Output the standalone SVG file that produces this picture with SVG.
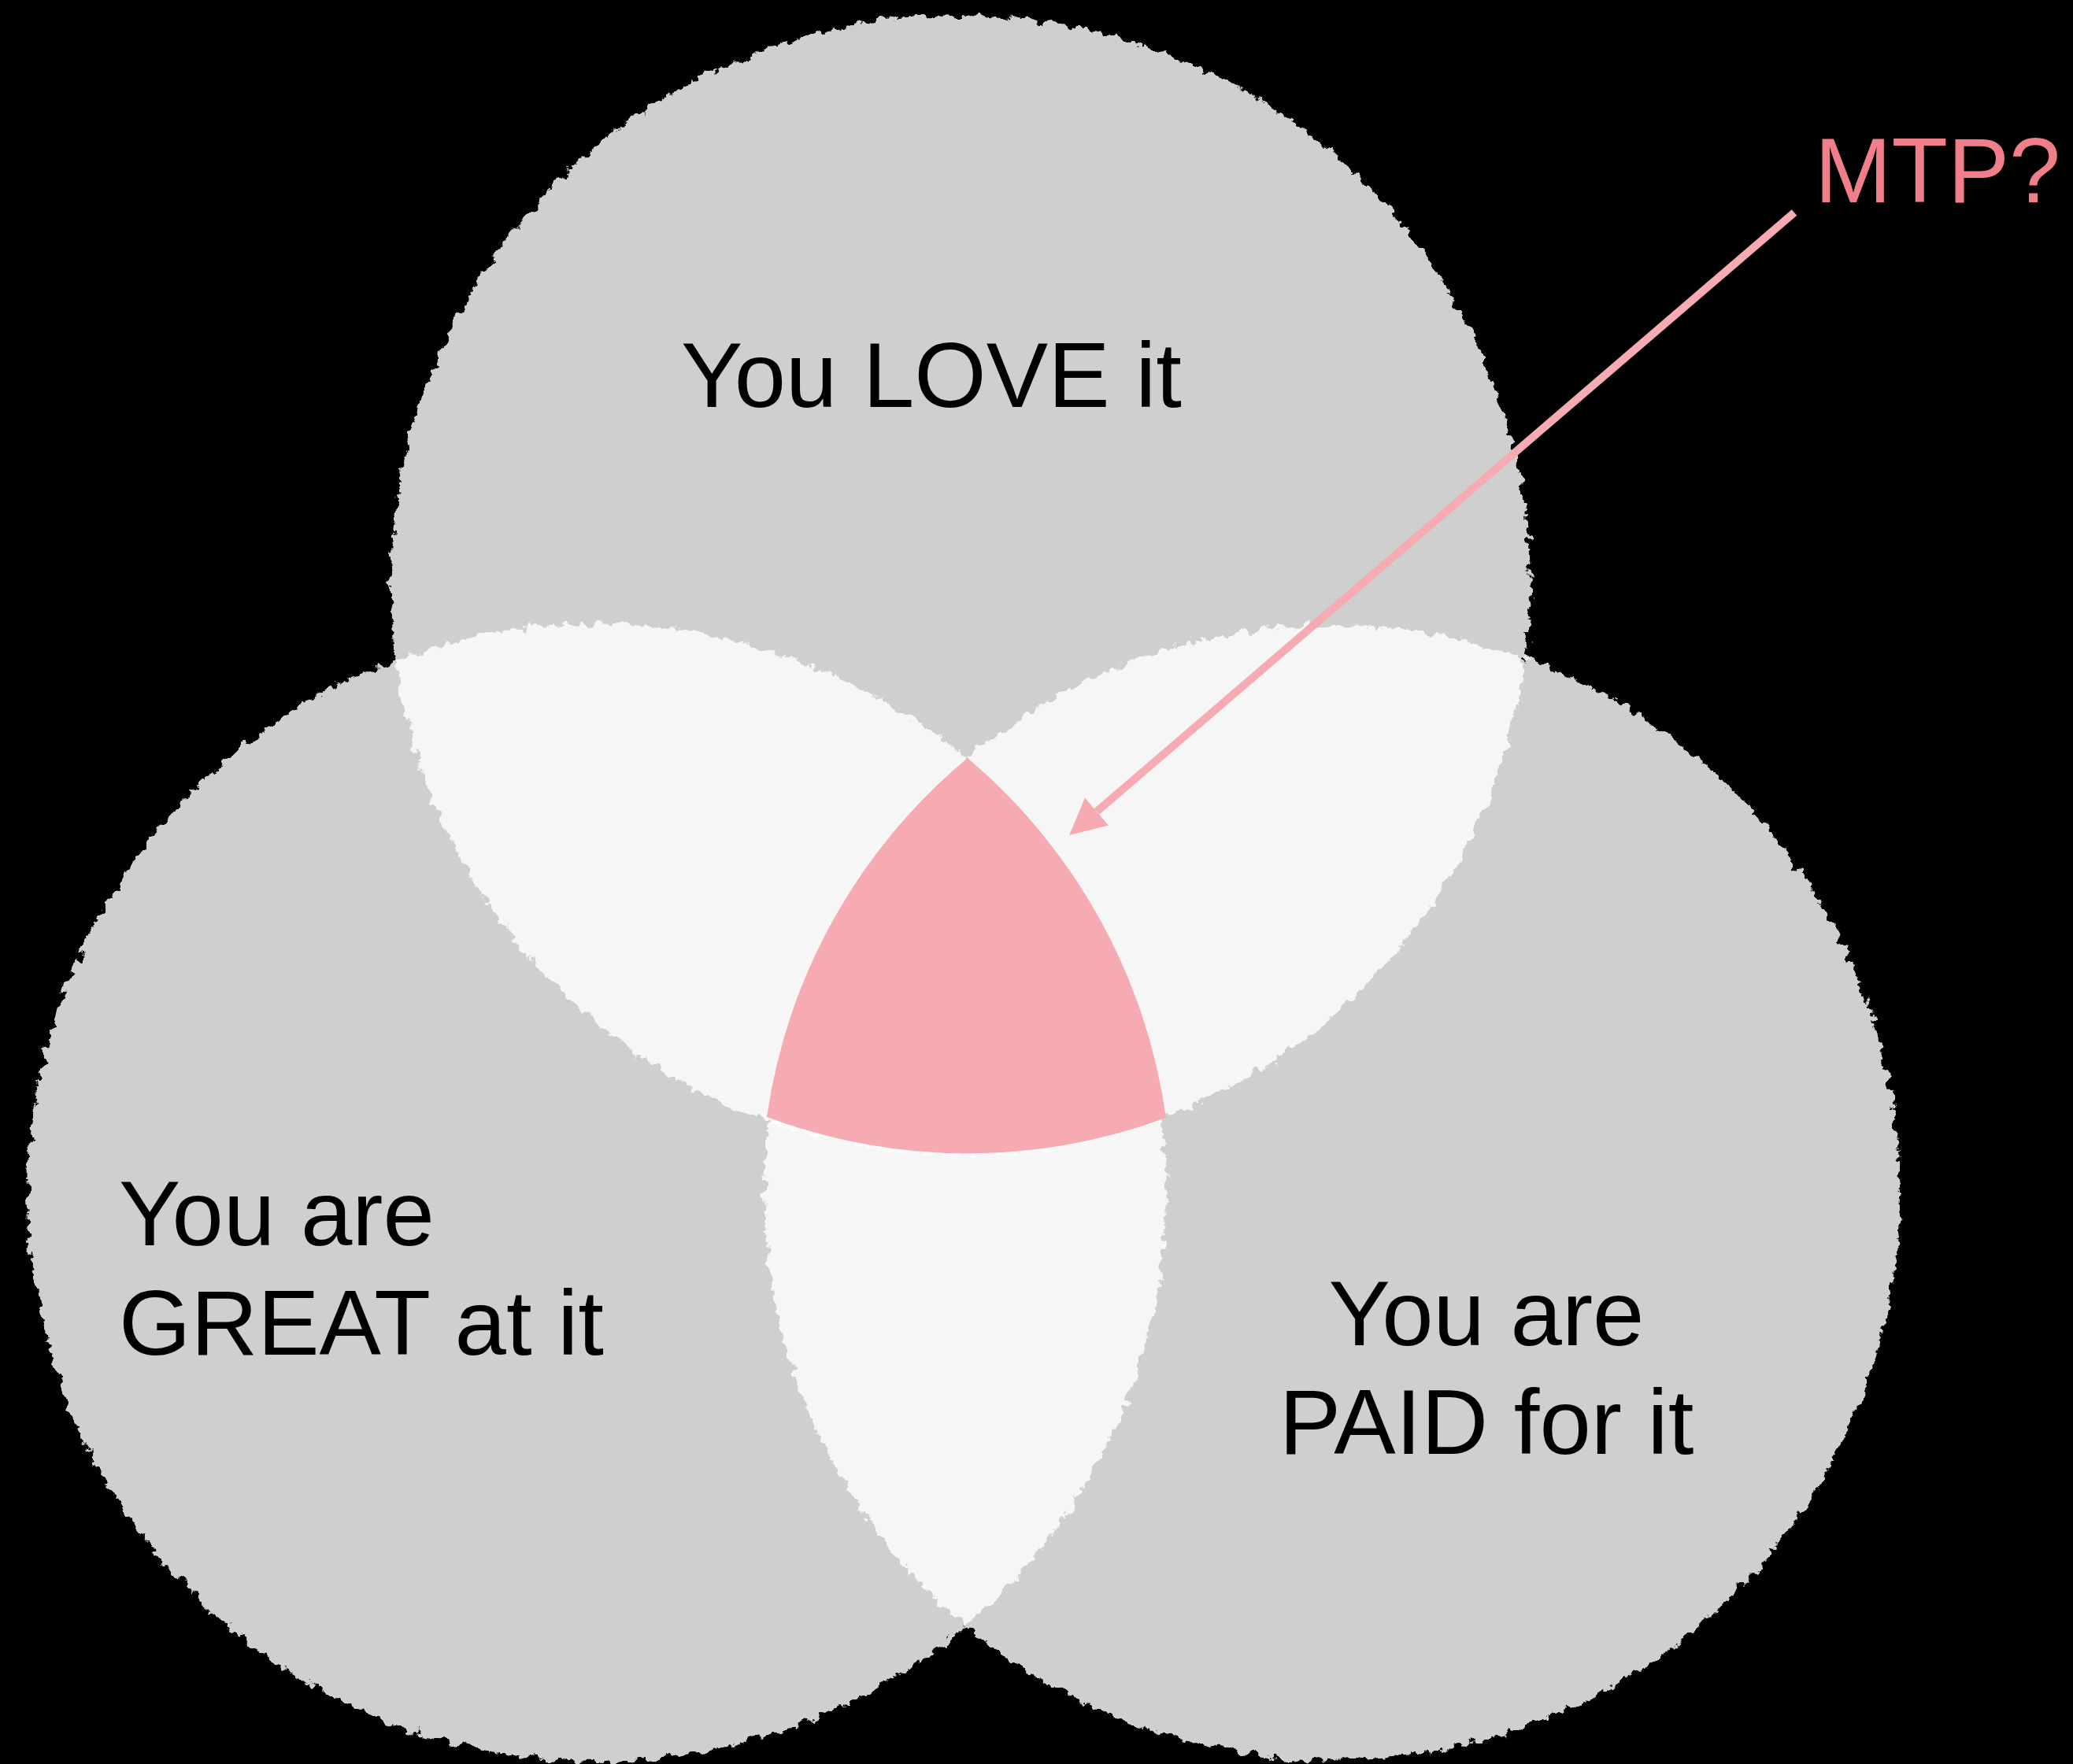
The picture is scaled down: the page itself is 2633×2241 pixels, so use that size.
<svg xmlns="http://www.w3.org/2000/svg" width="2633" height="2241" viewBox="0 0 2633 2241">
  <style>
    .set { fill: #ffffff; fill-opacity: 0.812; filter: url(#chalk); }
    .label { font-family: "Liberation Sans", Arial, Helvetica, sans-serif; font-size: 117.5px; fill: #000000; }
    .mtp { font-family: "Liberation Sans", Arial, Helvetica, sans-serif; font-size: 117px; fill: #f07f8a; }
    .core { fill: #f6abb3; }
    .arrow { stroke: #f6abb3; stroke-width: 10; fill: none; }
  </style>
  <defs>
    <filter id="chalk" x="-5%" y="-5%" width="110%" height="110%" filterUnits="objectBoundingBox" primitiveUnits="userSpaceOnUse">
      <feTurbulence type="fractalNoise" baseFrequency="0.07" numOctaves="4" seed="7" result="noise"/>
      <feDisplacementMap in="SourceGraphic" in2="noise" scale="20" xChannelSelector="R" yChannelSelector="G"/>
    </filter>
    <marker id="head" markerUnits="userSpaceOnUse" markerWidth="48" markerHeight="48" refX="0" refY="23" orient="auto" viewBox="0 0 48 48">
      <path d="M0,0 L46,23 L0,46 Z" fill="#f6abb3"/>
    </marker>
  </defs>
  <rect x="0" y="0" width="2633" height="2241" fill="#000000"/>

  <g id="node-love">
    <circle class="set" cx="1220" cy="743" r="724"/>
    <text class="label" x="1183" y="517" text-anchor="middle">You LOVE it</text>
  </g>

  <g id="node-great">
    <circle class="set" cx="758" cy="1515" r="723"/>
    <text class="label" x="151" y="1582">You are</text>
    <text class="label" x="151" y="1721">GREAT at it</text>
  </g>

  <g id="node-paid">
    <circle class="set" cx="1692" cy="1515" r="721"/>
    <text class="label" x="1888" y="1709" text-anchor="middle">You are</text>
    <text class="label" x="1888" y="1847" text-anchor="middle">PAID for it</text>
  </g>

  <g id="node-core">
    <path class="core" d="M1229,963 A730,730 0 0 1 1481,1420 A724,724 0 0 1 974,1419 A725,725 0 0 1 1229,963 Z"/>
  </g>

  <g id="node-mtp">
    <text class="mtp" x="2305" y="257">MTP?</text>
  </g>

  <g id="connectors">
    <line class="arrow" x1="2279" y1="270" x2="1393" y2="1031" marker-end="url(#head)"/>
  </g>
</svg>
